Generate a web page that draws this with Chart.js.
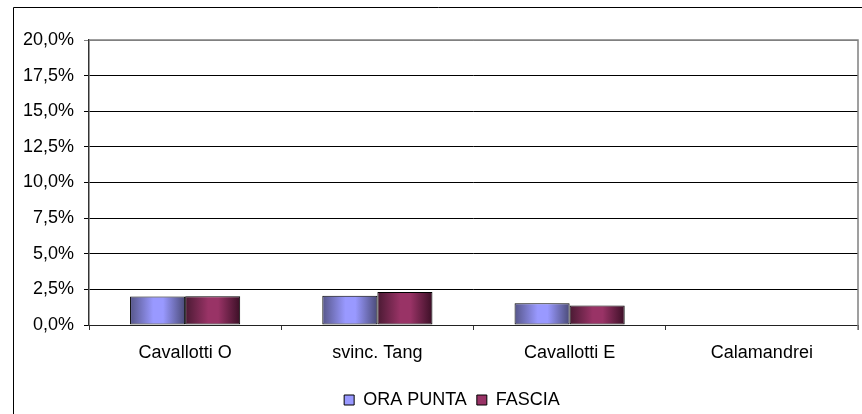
<!DOCTYPE html>
<html>
<head>
<meta charset="utf-8">
<script src="https://cdn.jsdelivr.net/npm/chart.js@4.4.0/dist/chart.umd.min.js"></script>
<style>
  html, body { margin:0; padding:0; background:#fff; }
  #wrap { position:relative; width:862px; height:414px; }
</style>
</head>
<body>
<div id="wrap"><canvas id="chart" width="862" height="414"></canvas></div>
<script>
const categories = ['Cavallotti O', 'svinc. Tang', 'Cavallotti E', 'Calamandrei'];
const oraPunta   = [2.0, 2.05, 1.52, 0];
const fascia     = [2.02, 2.32, 1.36, 0];
const yTicks     = [0, 2.5, 5, 7.5, 10, 12.5, 15, 17.5, 20];

const FONT = "'Liberation Sans', Arial, sans-serif";
const CAT_PCT = 0.573;

const pct = v => v.toFixed(1).replace('.', ',') + '%';

// excel-ish cylinder shading, left to right across each bar
const barFill = (dark, light, darker) => (c) => {
  const chart = c.chart, xs = chart.scales.x;
  if (!xs || c.type !== 'data') return light;
  const catW = xs.width / categories.length;
  const barW = catW * CAT_PCT / 2;
  const left = xs.getPixelForValue(c.dataIndex) - barW + c.datasetIndex * barW;
  const g = chart.ctx.createLinearGradient(left, 0, left + barW, 0);
  g.addColorStop(0, dark);
  g.addColorStop(0.42, light);
  g.addColorStop(0.6, light);
  g.addColorStop(1, darker);
  return g;
};

const frame = {
  id: 'frame',
  afterLayout(chart) {
    // legend sits a bit right of centre in the original
    const lg = chart.legend;
    if (lg) { lg.left += 23; lg.right += 23; }
  },
  beforeDraw(chart) {
    const ctx = chart.ctx;
    ctx.save();
    ctx.strokeStyle = '#000';
    ctx.lineWidth = 1;
    ctx.beginPath();
    ctx.moveTo(13.5, 420); ctx.lineTo(13.5, 7.5); ctx.lineTo(870, 7.5);
    ctx.stroke();
    ctx.restore();
  },
  afterDatasetsDraw(chart) {
    const {ctx, chartArea:a} = chart;
    ctx.save();
    ctx.strokeStyle = '#808080';
    ctx.lineWidth = 1.5;
    ctx.beginPath();
    ctx.moveTo(a.left, a.top); ctx.lineTo(a.right, a.top); ctx.lineTo(a.right, a.bottom + 5);
    ctx.stroke();
    ctx.restore();
  }
};

new Chart(document.getElementById('chart'), {
  type: 'bar',
  data: {
    labels: categories,
    datasets: [
      { label:'ORA PUNTA', data:oraPunta, backgroundColor:barFill('#565689', '#9999ff', '#4b4b78'),
        borderColor:'#000', borderWidth:1, borderSkipped:false, categoryPercentage:CAT_PCT, barPercentage:1 },
      { label:'FASCIA', data:fascia, backgroundColor:barFill('#4a1a33', '#993366', '#3b0f26'),
        borderColor:'#000', borderWidth:1, borderSkipped:false, categoryPercentage:CAT_PCT, barPercentage:1 }
    ]
  },
  options: {
    responsive:false, animation:false,
    layout:{ padding:{ top:40, right:4, left:0, bottom:-5 } },
    plugins:{
      tooltip:{ enabled:false },
      legend:{
        position:'bottom',
        labels:{
          color:'#000', font:{ family:FONT, size:18 }, boxWidth:10, boxHeight:10, padding:10,
          generateLabels: () => [
            { text:'ORA PUNTA', fillStyle:'#9999ff', strokeStyle:'#000', lineWidth:1, datasetIndex:0 },
            { text:'FASCIA', fillStyle:'#993366', strokeStyle:'#000', lineWidth:1, datasetIndex:1 }
          ]
        }
      }
    },
    scales:{
      x:{
        grid:{ display:true, drawOnChartArea:false, offset:true, color:'#333', tickLength:5 },
        border:{ color:'#222', width:1 },
        ticks:{ color:'#000', font:{ family:FONT, size:18 }, padding:12, maxRotation:0 },
        afterFit: s => { s.height = 56; }
      },
      y:{
        min:0, max:20,
        afterBuildTicks: s => { s.ticks = yTicks.map(v => ({ value:v })); },
        grid:{ color: c => c.tick && c.tick.value === 20 ? '#808080' : '#000', tickLength:5 },
        border:{ color:'#333', width:1.5 },
        ticks:{ color:'#000', font:{ family:FONT, size:18 }, padding:10, callback: v => pct(v) },
        afterFit: s => { s.width = 89; }
      }
    }
  },
  plugins:[frame]
});
</script>
</body>
</html>
